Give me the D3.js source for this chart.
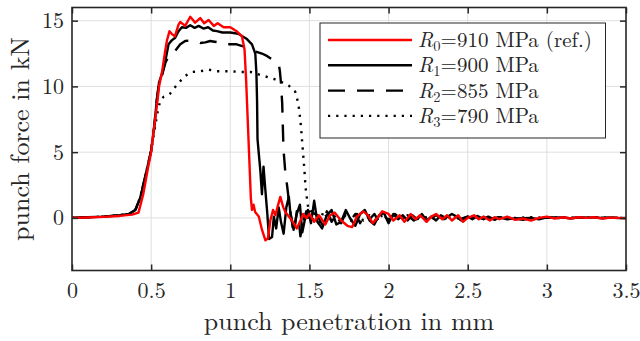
<!DOCTYPE html>
<html>
<head>
<meta charset="utf-8">
<script src="https://cdn.jsdelivr.net/npm/d3@7"></script>
</head>
<body style="margin:0; background:#fff">
<svg id="chart"></svg>
<script>
// punch force curves, [penetration mm, force kN]
const r0 = [[0,0],[0.1,0.03],[0.2,0.08],[0.3,0.15],[0.38,0.25],[0.42,0.4],[0.45,1.8],[0.48,3.8],[0.5,5.0],[0.52,7.0],[0.54,8.9],[0.55,10.0],[0.57,11.2],[0.59,12.8],[0.6,13.5],[0.616,14.2],[0.63,14.0],[0.65,13.8],[0.673,14.7],[0.684,14.9],[0.715,14.6],[0.747,15.3],[0.778,14.85],[0.81,15.2],[0.835,14.8],[0.863,15.05],[0.896,14.6],[0.92,14.8],[0.958,14.5],[1.0,14.5],[1.04,14.2],[1.074,13.8],[1.09,12.8],[1.1,10.5],[1.11,7.5],[1.12,4.5],[1.13,1.5],[1.137,0.6],[1.147,1.0],[1.157,0.45],[1.18,0.1],[1.2,-0.9],[1.222,-1.7],[1.238,-1.55],[1.253,-0.2],[1.27,0.6],[1.285,0.2],[1.3,0.9],[1.316,1.6],[1.335,0.8],[1.348,0.45],[1.37,0.1],[1.39,-0.2],[1.42,-0.8],[1.44,-0.3],[1.46,0.3],[1.48,0.0],[1.5,0.3],[1.53,-0.3],[1.56,0.2],[1.6,-0.5],[1.63,0.2],[1.66,0.4],[1.7,-0.2],[1.74,-0.6],[1.77,-0.7],[1.8,0.1],[1.84,0.5],[1.87,0.2],[1.9,-0.4],[1.93,0.0],[1.96,0.5],[2.0,0.3],[2.03,-0.2],[2.07,0.2],[2.1,-0.3],[2.14,0.3],[2.17,-0.1],[2.2,0.2],[2.24,-0.3],[2.27,0.1],[2.3,0.3],[2.34,-0.1],[2.37,0.2],[2.4,-0.2],[2.44,0.2],[2.47,-0.3],[2.5,0.0],[2.54,0.2],[2.57,-0.1],[2.6,0.1],[2.64,-0.2],[2.67,0.05],[2.7,-0.1],[2.75,0.1],[2.8,-0.15],[2.85,-0.05],[2.9,-0.2],[2.95,0.0],[3.0,0.1],[3.05,-0.05],[3.1,0.05],[3.15,-0.05],[3.2,0.05],[3.25,0.0],[3.3,0.05],[3.35,-0.05],[3.4,0.02],[3.45,0.0],[3.5,-0.05]];

const r1 = [[0,0],[0.1,0.05],[0.2,0.1],[0.3,0.2],[0.36,0.3],[0.4,0.6],[0.43,1.5],[0.46,3.0],[0.5,5.1],[0.52,7.0],[0.536,9.0],[0.55,10.3],[0.57,11.0],[0.589,11.9],[0.61,13.2],[0.63,13.5],[0.652,13.7],[0.673,14.2],[0.694,14.5],[0.72,14.45],[0.747,14.65],[0.775,14.45],[0.8,14.6],[0.83,14.4],[0.86,14.5],[0.89,14.25],[0.916,14.2],[0.95,14.1],[1.0,14.1],[1.05,14.0],[1.105,13.6],[1.137,13.2],[1.158,12.5],[1.165,11.0],[1.169,9.0],[1.172,6.0],[1.18,4.9],[1.19,3.6],[1.2,1.8],[1.21,3.9],[1.22,2.35],[1.234,0.3],[1.245,-1.6],[1.264,-1.45],[1.275,0.1],[1.29,-0.8],[1.306,0.8],[1.32,-0.3],[1.337,-1.2],[1.354,0.8],[1.37,1.6],[1.38,0.3],[1.4,-0.9],[1.42,0.3],[1.44,1.0],[1.455,-1.1],[1.47,-0.2],[1.49,0.6],[1.51,-0.4],[1.53,1.3],[1.55,-0.3],[1.58,-0.8],[1.61,0.2],[1.64,0.6],[1.67,-0.5],[1.7,-0.3],[1.73,0.6],[1.76,-0.1],[1.79,-0.6],[1.82,0.3],[1.85,0.6],[1.88,-0.2],[1.91,-0.5],[1.94,0.2],[1.97,0.4],[2.0,-0.4],[2.03,0.3],[2.06,-0.1],[2.09,0.2],[2.12,-0.2],[2.15,0.2],[2.18,-0.1],[2.21,0.3],[2.24,-0.2],[2.27,0.1],[2.3,-0.2],[2.33,0.2],[2.36,0.0],[2.4,0.3],[2.43,0.1],[2.46,-0.2],[2.5,0.1],[2.53,-0.1],[2.56,0.15],[2.6,-0.1],[2.63,0.1],[2.67,-0.15],[2.7,0.05],[2.75,-0.1],[2.8,-0.05],[2.85,-0.15],[2.9,0.0],[2.95,-0.1],[3.0,0.05],[3.05,0.0],[3.1,0.05],[3.15,-0.05],[3.2,0.05],[3.25,0.0],[3.3,0.05],[3.35,-0.03],[3.4,0.02],[3.45,-0.02],[3.5,0.0]];

const r2 = [[0,0],[0.1,0.05],[0.2,0.1],[0.3,0.2],[0.36,0.3],[0.4,0.6],[0.43,1.5],[0.46,3.0],[0.5,5.1],[0.52,7.0],[0.536,9.0],[0.55,10.2],[0.57,10.9],[0.59,11.8],[0.61,12.3],[0.63,12.6],[0.652,12.7],[0.684,13.2],[0.715,13.45],[0.747,13.5],[0.78,13.45],[0.81,13.3],[0.842,13.35],[0.873,13.45],[0.9,13.4],[0.926,13.35],[0.958,13.2],[1.0,13.2],[1.04,13.2],[1.095,13.0],[1.148,12.7],[1.2,12.5],[1.234,12.3],[1.275,11.95],[1.306,11.7],[1.313,11.2],[1.32,10.3],[1.328,8.7],[1.334,6.1],[1.337,5.1],[1.348,3.4],[1.36,2.35],[1.375,0.8],[1.39,-0.3],[1.4,-1.2],[1.41,-0.5],[1.42,0.5],[1.43,0.2],[1.443,-1.4],[1.46,-0.3],[1.48,0.5],[1.5,-0.3],[1.52,0.4],[1.55,0.2],[1.58,-0.5],[1.61,0.5],[1.64,-0.3],[1.67,0.3],[1.7,-0.4],[1.73,0.4],[1.76,-0.2],[1.79,0.3],[1.82,-0.4],[1.85,0.3],[1.88,-0.1],[1.91,0.3],[1.94,-0.3],[1.97,0.2],[2.0,-0.2],[2.04,0.3],[2.08,-0.1],[2.12,0.2],[2.16,-0.2],[2.2,0.15],[2.25,-0.1],[2.3,0.2],[2.35,-0.1],[2.4,0.15],[2.45,-0.1],[2.5,0.1],[2.55,-0.1],[2.6,0.05],[2.65,-0.05],[2.7,0.05],[2.8,-0.05],[2.9,0.0],[3.0,0.05],[3.1,-0.02],[3.2,0.02],[3.3,0.0],[3.4,0.02],[3.5,0.0]];

const r3 = [[0,0],[0.1,0.05],[0.2,0.1],[0.3,0.2],[0.36,0.3],[0.4,0.6],[0.43,1.5],[0.46,3.0],[0.498,5.0],[0.52,6.6],[0.54,8.0],[0.557,8.9],[0.578,9.2],[0.6,9.3],[0.62,9.45],[0.641,9.8],[0.684,10.4],[0.715,10.8],[0.757,11.1],[0.81,11.15],[0.863,11.27],[0.916,11.15],[1.0,11.15],[1.06,11.1],[1.127,11.1],[1.21,10.8],[1.275,10.56],[1.296,10.5],[1.37,10.05],[1.41,9.6],[1.43,8.7],[1.443,7.4],[1.45,6.4],[1.46,4.9],[1.468,3.7],[1.475,2.4],[1.486,1.3],[1.497,0.4],[1.51,0.8],[1.525,-0.2],[1.54,0.5],[1.56,-0.4],[1.59,0.5],[1.62,-0.2],[1.65,0.3],[1.68,-0.3],[1.72,0.2],[1.76,-0.2],[1.8,0.3],[1.84,-0.2],[1.88,0.2],[1.92,-0.2],[1.96,0.2],[2.0,-0.1],[2.05,0.2],[2.1,-0.1],[2.15,0.15],[2.2,-0.1],[2.25,0.1],[2.3,-0.1],[2.35,0.1],[2.4,0.0],[2.5,0.05],[2.6,-0.05],[2.7,0.05],[2.8,0.0],[2.9,0.05],[3.0,0.0],[3.1,0.05],[3.2,0.0],[3.3,0.05],[3.4,0.0],[3.5,0.0]];

const seriesNames = [["0", "=910 MPa (ref.)"], ["1", "=900 MPa"], ["2", "=855 MPa"], ["3", "=790 MPa"]];
const xTicks = [0, 0.5, 1, 1.5, 2, 2.5, 3, 3.5];
const yTicks = [0, 5, 10, 15];

const W = 640, H = 341;
const margin = { top: 7.5, right: 14, bottom: 70.5, left: 72 };
const width = W - margin.left - margin.right;
const height = H - margin.top - margin.bottom;
const FONT = '"Latin Modern Roman", "Liberation Serif", serif';
const axisColor = '#262626';

const svg = d3.select('#chart').attr('width', W).attr('height', H);
const g = svg.append('g').attr('transform', `translate(${margin.left},${margin.top})`);

const x = d3.scaleLinear().domain([0, 3.5]).range([0, width]);
const y = d3.scaleLinear().domain([-4, 16]).range([height, 0]);

// grid
g.append('g').selectAll('line').data(xTicks.slice(1, -1)).join('line')
  .attr('x1', d => x(d)).attr('x2', d => x(d)).attr('y1', 0).attr('y2', height)
  .attr('stroke', '#dfdfdf').attr('stroke-width', 1);
g.append('g').selectAll('line').data(yTicks).join('line')
  .attr('y1', d => y(d)).attr('y2', d => y(d)).attr('x1', 0).attr('x2', width)
  .attr('stroke', '#dfdfdf').attr('stroke-width', 1);

// curves
const line = d3.line().x(d => x(d[0])).y(d => y(d[1]));
const styles = [
  { data: r0, color: '#ff0000', dash: null },
  { data: r1, color: '#000000', dash: null },
  { data: r2, color: '#000000', dash: '17,12' },
  { data: r3, color: '#000000', dash: '2.2,6' }
];
const plot = g.append('g');
styles.slice().reverse().forEach(s => {
  plot.append('path')
    .attr('d', line(s.data))
    .attr('fill', 'none')
    .attr('stroke', s.color)
    .attr('stroke-width', 2.4)
    .attr('stroke-linejoin', 'round')
    .attr('stroke-dasharray', s.dash);
});

// axes (ticks inside on all four sides)
g.append('g').attr('transform', `translate(0,${height})`)
  .call(d3.axisBottom(x).tickValues(xTicks).tickSize(-6).tickPadding(12).tickFormat(d3.format('')));
g.append('g')
  .call(d3.axisLeft(y).tickValues(yTicks).tickSize(-6).tickPadding(8));
g.append('g').call(d3.axisTop(x).tickValues(xTicks).tickSize(-6).tickFormat(''));
g.append('g').attr('transform', `translate(${width},0)`)
  .call(d3.axisRight(y).tickValues(yTicks).tickSize(-6).tickFormat(''));
g.selectAll('.domain').remove();
g.selectAll('.tick line').attr('stroke', axisColor).attr('stroke-width', 1.5);
g.selectAll('.tick text').style('font-size', '22px').attr('fill', axisColor)
  .style('font-family', FONT);

g.append('rect').attr('width', width).attr('height', height)
  .attr('fill', 'none').attr('stroke', axisColor).attr('stroke-width', 1.6);

// axis labels
svg.append('text')
  .attr('x', margin.left + width / 2).attr('y', 330)
  .attr('text-anchor', 'middle').style('font-size', '26px')
  .style('font-family', FONT).attr('fill', axisColor)
  .text('punch penetration in mm');
svg.append('text')
  .attr('transform', `translate(29,${margin.top + height / 2}) rotate(-90)`)
  .attr('text-anchor', 'middle').style('font-size', '26px')
  .style('font-family', FONT).attr('fill', axisColor)
  .text('punch force in kN');

// legend
const lg = svg.append('g').attr('transform', 'translate(320,23)');
lg.append('rect').attr('width', 285.5).attr('height', 115)
  .attr('fill', '#fff').attr('stroke', axisColor).attr('stroke-width', 1);
styles.forEach((s, i) => {
  const ly = 17 + i * 25.3;
  lg.append('line').attr('x1', 8).attr('x2', 92).attr('y1', ly).attr('y2', ly)
    .attr('stroke', s.color).attr('stroke-width', 2.4).attr('stroke-dasharray', s.dash);
  const t = lg.append('text').attr('x', 98).attr('y', ly + 7)
    .style('font-size', '21px').style('font-family', FONT).attr('fill', axisColor);
  t.append('tspan').attr('font-style', 'italic').text('R');
  t.append('tspan').style('font-size', '14.5px').attr('dy', 4).text(seriesNames[i][0]);
  t.append('tspan').attr('dy', -4).text(seriesNames[i][1]);
});
</script>
</body>
</html>
